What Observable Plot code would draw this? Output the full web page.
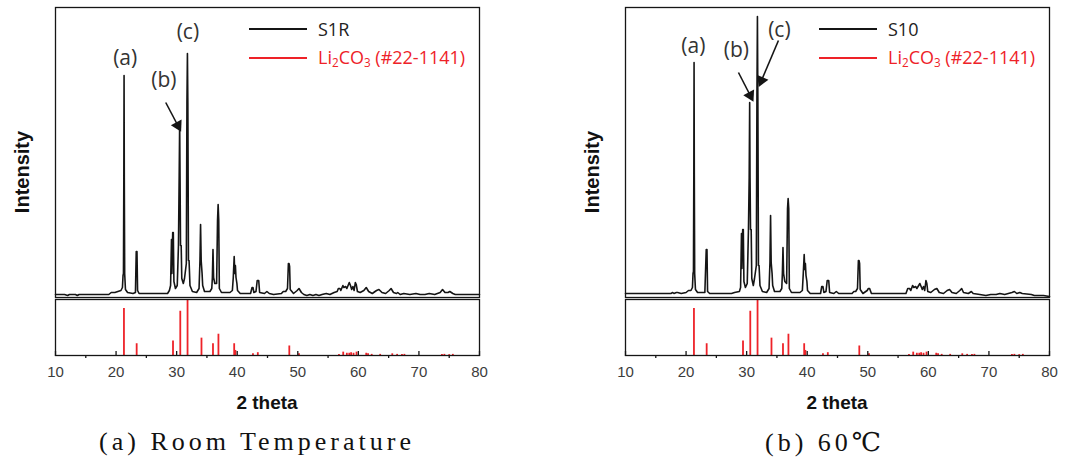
<!DOCTYPE html>
<html><head><meta charset="utf-8">
<script src="https://cdn.jsdelivr.net/npm/d3@7"></script>
<script src="https://cdn.jsdelivr.net/npm/@observablehq/plot@0.6"></script>
<style>
body{margin:0;background:#fff;}
#root{position:relative;width:1066px;height:461px;overflow:hidden;background:#fff;}
.ylab{position:absolute;font-family:"Liberation Sans",Arial,sans-serif;font-weight:bold;font-size:20px;color:#111;transform:translate(-50%,-50%) rotate(-90deg);white-space:nowrap;}
.xlab{position:absolute;font-family:"Liberation Sans",Arial,sans-serif;font-weight:bold;font-size:19px;color:#111;transform:translate(-50%,-50%);white-space:nowrap;}
.cap{position:absolute;font-family:"Liberation Serif","DejaVu Serif",serif;font-size:26px;letter-spacing:4px;color:#111;transform:translate(-50%,-50%);white-space:nowrap;}
.leg{position:absolute;font-family:"Open Sans","Noto Sans",sans-serif;font-size:18px;transform:translateY(-50%);white-space:nowrap;line-height:1;}
.legline{position:absolute;width:58px;height:2px;}
sub{font-size:0.65em;vertical-align:-0.25em;}
</style></head><body><div id="root"></div>
<script>
// ---- data ----
const s1r = [[10,-1],[11.5,-1],[12,-2],[12.3,-1],[13.3,-1],[13.6,-2],[13.9,-1],[16,-1],[18.8,-1],[19.2,1],[19.8,1],[20.3,2],[20.8,3],[21.05,6],[21.15,18],[21.22,20],[21.28,115],[21.32,218],[21.36,115],[21.42,20],[21.55,4],[21.9,1],[22.8,0],[23.2,1],[23.33,42],[23.45,42],[23.55,3],[23.8,0],[27.5,0],[28.5,0],[28.8,3],[29.0,8],[29.15,54],[29.22,20],[29.35,61],[29.45,61],[29.55,12],[29.8,5],[30.1,8],[30.3,48],[30.42,118],[30.5,171],[30.56,118],[30.64,48],[30.75,48],[30.85,15],[31.1,10],[31.3,15],[31.6,30],[31.7,190],[31.78,240],[31.85,190],[31.95,33],[32.05,33],[32.2,8],[32.6,2],[33.3,1],[33.7,5],[33.85,33],[33.95,69],[34.05,33],[34.2,20],[34.3,8],[34.6,2],[35.5,2],[35.8,5],[35.9,16],[36.0,44],[36.1,16],[36.3,10],[36.6,10],[36.75,73],[36.85,89],[36.95,73],[37.05,5],[37.4,1],[38.8,1],[39.2,3],[39.35,16],[39.5,37],[39.6,20],[39.7,28],[39.8,16],[39.95,10],[40.05,3],[40.5,0],[42.2,0],[42.45,6],[42.6,6],[42.75,1],[43.1,2],[43.3,13],[43.55,13],[43.7,1],[44.5,0],[44.9,2],[45.3,0],[46,-1],[47.3,0],[47.6,2],[48.0,2],[48.3,5],[48.45,30],[48.55,30],[48.65,27],[48.75,4],[49.3,0],[49.9,3],[50.2,5],[50.6,1],[51.0,-1],[51.5,-2],[52,-1],[52.5,-2],[53,-1],[53.5,-2],[54,-1],[54.7,0],[55.3,-1],[56.0,1],[56.5,2],[56.7,5],[56.95,5],[57.1,3],[57.45,8],[57.6,6],[57.9,7],[58.1,5],[58.5,11],[58.7,8],[58.9,4],[59.1,7],[59.3,3],[59.5,11],[59.65,9],[59.85,2],[60.3,1],[60.9,3],[61.3,6],[61.7,2],[62.3,0],[63.0,3],[63.4,4],[63.9,1],[64.5,0],[65.1,3],[65.4,5],[65.8,1],[66.3,0],[66.5,1],[66.9,-1],[67.5,0],[68.5,-1],[69.5,0],[70.2,-1],[71.0,-1],[71.7,0],[72.6,-1],[73.5,1],[73.9,4],[74.3,1],[74.8,1],[75.1,2],[75.6,0],[76,-1],[80,-1]];

const s10 = [[10,0],[14,0],[17.5,0],[17.8,1],[18.0,0],[18.4,1],[18.6,1],[19.2,0],[20.0,1],[20.4,3],[20.8,3],[21.05,6],[21.15,20],[21.22,22],[21.28,120],[21.32,231],[21.36,120],[21.42,20],[21.55,4],[21.9,1],[23.1,1],[23.33,44],[23.45,44],[23.55,2],[23.9,0],[27.5,0],[28,1],[28.8,2],[29.0,6],[29.15,60],[29.22,25],[29.35,64],[29.45,64],[29.55,12],[29.8,6],[30.1,10],[30.3,64],[30.42,116],[30.5,191],[30.56,116],[30.64,64],[30.75,64],[30.85,15],[31.1,8],[31.3,15],[31.6,28],[31.7,196],[31.78,277],[31.85,196],[31.95,28],[32.05,28],[32.2,8],[32.6,2],[33.3,1],[33.7,5],[33.85,31],[33.95,78],[34.05,31],[34.2,20],[34.3,8],[34.6,2],[35.5,2],[35.8,5],[35.9,20],[36.0,46],[36.1,20],[36.3,12],[36.6,10],[36.75,85],[36.85,95],[36.95,85],[37.05,5],[37.4,1],[38.8,1],[39.2,3],[39.35,20],[39.5,39],[39.6,24],[39.7,30],[39.8,18],[39.95,12],[40.05,3],[40.5,0],[42.2,0],[42.4,7],[42.6,7],[42.75,1],[43.1,2],[43.3,13],[43.55,13],[43.7,1],[44.4,0],[44.8,2],[45.2,0],[47.4,0],[47.7,2],[48.0,2],[48.3,5],[48.45,33],[48.55,33],[48.65,30],[48.75,4],[49.2,0],[49.9,3],[50.1,5],[50.3,5],[50.6,0],[56.3,0],[56.6,5],[56.9,5],[57.1,3],[57.4,8],[57.6,6],[57.9,7],[58.1,5],[58.6,10],[58.8,7],[59.0,4],[59.2,7],[59.4,3],[59.6,13],[59.75,10],[59.9,2],[60.4,1],[61.0,4],[61.4,5],[61.8,1],[62.5,0],[63.1,3],[63.5,4],[63.9,1],[64.6,0],[65.2,3],[65.5,5],[65.8,1],[66.6,0],[67.1,2],[67.4,0],[68.5,-1],[69.5,-2],[70.3,-1],[71.2,-1],[71.8,0],[72.6,-1],[73.8,1],[74.2,2],[74.6,0],[75.1,1],[75.5,0],[77.0,-1],[77.5,-2],[78.0,-2],[79,-2],[80,-3]];

const li2co3 = [[21.3,84],[23.4,21],[29.4,26],[30.6,79],[31.8,100],[34.1,31],[36.0,21],[36.9,38],[39.5,21],[39.7,9],[42.6,3],[43.4,5],[48.6,17],[50.2,3],[56.8,2],[57.5,6],[58.1,4],[58.5,4],[58.8,5],[59.2,4],[59.7,6],[61.3,4],[61.6,3],[62.2,2],[63.6,2],[65.6,3],[66.4,2],[67.2,2],[67.6,2],[73.8,2],[74.2,2],[75.0,1.5],[75.6,2]];

const majorTicks = [10,20,30,40,50,60,70,80];
const minorTicks = [15,25,35,45,55,65,75];

const labelsS1R = [{t:"(a)",x:21.5,y:235},{t:"(b)",x:27.9,y:213},{t:"(c)",x:31.85,y:261}];
const arrowsS1R = [{x1:28.2,y1:191,x2:30.2,y2:168}];
const labelsS10 = [{t:"(a)",x:21.2,y:247},{t:"(b)",x:28.3,y:243},{t:"(c)",x:35.4,y:263}];
const arrowsS10 = [{x1:28.65,y1:221,x2:30.6,y2:198},{x1:35.25,y1:253,x2:32.45,y2:213}];

const sampleNames = ["S1R","S10"];
const captions = ["(a) Room Temperature","(b) 60\u2103"];
const refName = "Li<sub>2</sub>CO<sub>3</sub> (#22-1141)";

const RED = "#ee2228";
const INK = "#151515";

const root = document.getElementById("root");

const W = 500, ML = 55, MR = 21, UH = 298, UMT = 7, UMB = 1;
const X_DOM = [10, 80], Y_DOM = [-4, 286];
const kx = (W - ML - MR) / (X_DOM[1] - X_DOM[0]);
const ky = (UH - UMT - UMB) / (Y_DOM[1] - Y_DOM[0]);
const headAngle = a => Math.atan2((a.x2 - a.x1) * kx, (a.y2 - a.y1) * ky) * 180 / Math.PI;

function addPanel(offsetX, pattern, labels, arrows, name, caption, capX) {
  const upper = Plot.plot({
    width: W, height: UH, marginLeft: ML, marginRight: MR, marginTop: UMT, marginBottom: UMB,
    x: {domain: X_DOM, axis: null},
    y: {domain: Y_DOM, axis: null},
    style: {overflow: "visible", background: "transparent"},
    marks: [
      Plot.line(pattern, {x: d => d[0], y: d => d[1], stroke: INK, strokeWidth: 1.6}),
      Plot.frame({stroke: INK, strokeWidth: 1.3}),
      Plot.text(labels, {x: "x", y: "y", text: "t", fontSize: 21, fill: "#333", fontFamily: "Open Sans"}),
      Plot.link(arrows, {x1: "x1", y1: "y1", x2: "x2", y2: "y2", stroke: INK, strokeWidth: 1.6}),
      Plot.dot(arrows, {x: "x2", y: "y2", symbol: "triangle", r: 4.5, fill: INK, stroke: "none", rotate: headAngle})
    ]
  });
  upper.style.position = "absolute"; upper.style.left = offsetX + "px"; upper.style.top = "0px";
  root.appendChild(upper);

  const lower = Plot.plot({
    width: W, height: 100, marginLeft: ML, marginRight: MR, marginTop: 2, marginBottom: 42,
    x: {domain: X_DOM},
    y: {domain: [0, 100], axis: null},
    style: {overflow: "visible", background: "transparent"},
    marks: [
      Plot.ruleX(li2co3, {x: d => d[0], y1: 0, y2: d => d[1], stroke: RED, strokeWidth: 1.8}),
      Plot.frame({stroke: INK, strokeWidth: 1.3}),
      Plot.tickX(majorTicks, {x: d => d, insetTop: 52, insetBottom: -1, stroke: INK, strokeWidth: 1.3}),
      Plot.tickX(minorTicks, {x: d => d, insetTop: 56, insetBottom: -3, stroke: INK, strokeWidth: 1.3}),
      Plot.axisX({ticks: majorTicks, tickSize: 0, tickPadding: 11, fontSize: 15, fill: "#3c3c3c", fontFamily: "Liberation Sans", label: null})
    ]
  });
  lower.style.position = "absolute"; lower.style.left = offsetX + "px"; lower.style.top = "297px";
  root.appendChild(lower);

  const fx = offsetX + ML, fw = W - ML - MR;
  const yl = document.createElement("div"); yl.className = "ylab"; yl.textContent = "Intensity";
  yl.style.left = (offsetX + 22) + "px"; yl.style.top = "172px"; root.appendChild(yl);

  const xl = document.createElement("div"); xl.className = "xlab"; xl.textContent = "2 theta";
  xl.style.left = (fx + fw / 2) + "px"; xl.style.top = "403px"; root.appendChild(xl);

  const cp = document.createElement("div"); cp.className = "cap"; cp.textContent = caption;
  cp.style.left = capX + "px"; cp.style.top = "442px"; root.appendChild(cp);

  const lx = fx + 194;
  const l1 = document.createElement("div"); l1.className = "legline"; l1.style.background = INK;
  l1.style.left = lx + "px"; l1.style.top = "28px"; root.appendChild(l1);
  const t1 = document.createElement("div"); t1.className = "leg"; t1.style.color = "#222"; t1.textContent = name;
  t1.style.left = (lx + 69) + "px"; t1.style.top = "29px"; root.appendChild(t1);
  const l2 = document.createElement("div"); l2.className = "legline"; l2.style.background = RED;
  l2.style.left = lx + "px"; l2.style.top = "57px"; root.appendChild(l2);
  const t2 = document.createElement("div"); t2.className = "leg"; t2.style.color = RED; t2.innerHTML = refName;
  t2.style.left = (lx + 69) + "px"; t2.style.top = "58px"; root.appendChild(t2);
}

addPanel(0, s1r, labelsS1R, arrowsS1R, sampleNames[0], captions[0], 257);
addPanel(570, s10, labelsS10, arrowsS10, sampleNames[1], captions[1], 825);
</script></body></html>
